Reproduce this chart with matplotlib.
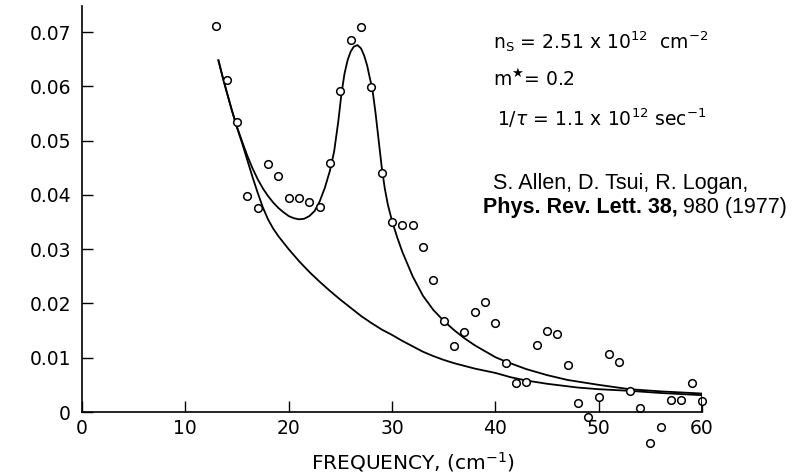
import matplotlib
matplotlib.use("Agg")
import matplotlib.pyplot as plt

# measured data (frequency in cm^-1, absorption)
freq_pts = list(range(13, 61))
absorb_pts = [0.0711, 0.0611, 0.0534, 0.0398, 0.0376, 0.0456, 0.0435, 0.0395,
              0.0395, 0.0387, 0.0378, 0.0458, 0.0592, 0.0685, 0.0709, 0.0599,
              0.0440, 0.0350, 0.0345, 0.0345, 0.0304, 0.0243, 0.0168, 0.0122,
              0.0148, 0.0185, 0.0202, 0.0164, 0.0091, 0.0053, 0.0055, 0.0123,
              0.0150, 0.0144, 0.0087, 0.0016, -0.0009, 0.0028, 0.0107, 0.0092,
              0.0039, 0.0008, -0.0058, -0.0027, 0.0022, 0.0022, 0.0053, 0.0020]

# fitted curve with resonance
res_x = [13.2, 13.6, 14, 14.5, 15, 15.5, 16, 16.5, 17, 17.5, 18, 18.5, 19, 19.5,
         20, 20.5, 21, 21.5, 22, 22.5, 23, 23.5, 24, 24.4, 24.8, 25.1, 25.4,
         25.7, 26.0, 26.3, 26.65, 27.0, 27.3, 27.6, 27.8, 28.1, 28.4, 28.7,
         29.0, 29.3, 29.6, 30.0, 30.5, 31, 32, 33, 34, 35, 36, 37, 38, 39, 40,
         41, 42, 43, 45, 47, 50, 53, 56, 60]
res_y = [0.0648, 0.0618, 0.0590, 0.0556, 0.0525, 0.0498, 0.0472, 0.0449,
         0.0429, 0.0412, 0.0398, 0.0386, 0.0376, 0.0368, 0.0361, 0.0357,
         0.0355, 0.0356, 0.0361, 0.0370, 0.0388, 0.0413, 0.0445, 0.0480,
         0.0535, 0.0585, 0.0623, 0.0648, 0.0664, 0.0673, 0.0676, 0.0670,
         0.0657, 0.0638, 0.0620, 0.0595, 0.0552, 0.0502, 0.0452, 0.0412,
         0.0382, 0.0352, 0.0322, 0.0295, 0.0250, 0.0214, 0.0188, 0.0168,
         0.0151, 0.0136, 0.0123, 0.0112, 0.0101, 0.0093, 0.0086, 0.0079,
         0.0068, 0.0059, 0.0050, 0.0042, 0.0038, 0.0034]

# Drude curve
drude_x = [13.2, 13.6, 14, 14.5, 15, 15.5, 16, 16.5, 17, 17.5, 18, 18.5, 19, 20,
           21, 22, 23, 24, 25, 26, 27, 28, 29, 30, 31, 32, 33, 34, 35, 36, 37,
           38, 39, 40, 41.5, 43, 45, 48, 50, 53, 56, 60]
drude_y = [0.0648, 0.0618, 0.0590, 0.0556, 0.0524, 0.0495, 0.0464, 0.0433,
           0.0404, 0.0377, 0.0355, 0.0338, 0.0324, 0.0300, 0.0278, 0.0258,
           0.0240, 0.0223, 0.0207, 0.0192, 0.0177, 0.0164, 0.0152, 0.0142,
           0.0131, 0.0121, 0.0111, 0.0103, 0.0096, 0.0090, 0.0085, 0.0080,
           0.0076, 0.0072, 0.0064, 0.0058, 0.0052, 0.0045, 0.0042, 0.0039,
           0.0035, 0.0031]

x_ticks = [0, 10, 20, 30, 40, 50, 60]
y_ticks = [0, 0.01, 0.02, 0.03, 0.04, 0.05, 0.06, 0.07]
y_labels = ["0", "0.01", "0.02", "0.03", "0.04", "0.05", "0.06", "0.07"]

fig = plt.figure(figsize=(8.06, 4.76), dpi=100)
ax = fig.add_axes([82 / 806, 64 / 476, 620 / 806, 406 / 476])

ax.plot(drude_x, drude_y, color="black", lw=1.3)
ax.plot(res_x, res_y, color="black", lw=1.3)
ax.plot(freq_pts, absorb_pts, linestyle="none", marker="o", ms=5.5,
        mfc="white", mec="black", mew=1.1, clip_on=False)
ax.plot([60, 60], [0, drude_y[-1]], color="black", lw=1.3)

ax.set_xlim(0, 60)
ax.set_ylim(0, 0.0748)
for s in ["top", "right"]:
    ax.spines[s].set_visible(False)
for s in ["left", "bottom"]:
    ax.spines[s].set_linewidth(1.2)

ax.set_xticks(x_ticks)
ax.set_xticklabels([str(v) for v in x_ticks])
ax.set_yticks(y_ticks)
ax.set_yticklabels(y_labels)
ax.tick_params(direction="in", length=8, width=1.0, labelsize=13.5)
ax.tick_params(axis="y", pad=8)
ax.tick_params(axis="x", pad=5)

ax.set_xlabel("FREQUENCY, (cm$^{-1}$)", fontsize=14.5)
ax.xaxis.set_label_coords((413 - 82) / 620, -(462 - 412) / 406, transform=ax.transAxes)
ax.xaxis.label.set_va("center")

tf = dict(fontsize=13.5, color="black", va="center", ha="left")
fig.text(493 / 806, 1 - 42 / 476, r"n$_\mathregular{S}$ = 2.51 x 10$^{12}$  cm$^{-2}$", **tf)
fig.text(493 / 806, 1 - 79 / 476, r"m$^{\bigstar}$= 0.2", **tf)
fig.text(497 / 806, 1 - 118 / 476, r"1/$\tau$ = 1.1 x 10$^{12}$ sec$^{-1}$", **tf)

cf = dict(fontsize=15.5, family="Liberation Sans", va="center", ha="left")
fig.text(493 / 806, 1 - 183 / 476, "S. Allen, D. Tsui, R. Logan,", **cf)
t = fig.text(483 / 806, 1 - 208 / 476, "Phys. Rev. Lett. 38,", fontweight="bold", **cf)
fig.canvas.draw()
bb = t.get_window_extent()
fig.text((bb.x1 + 5) / 806, 1 - 208 / 476, "980 (1977)", **cf)

fig.savefig("out.png", dpi=100)
